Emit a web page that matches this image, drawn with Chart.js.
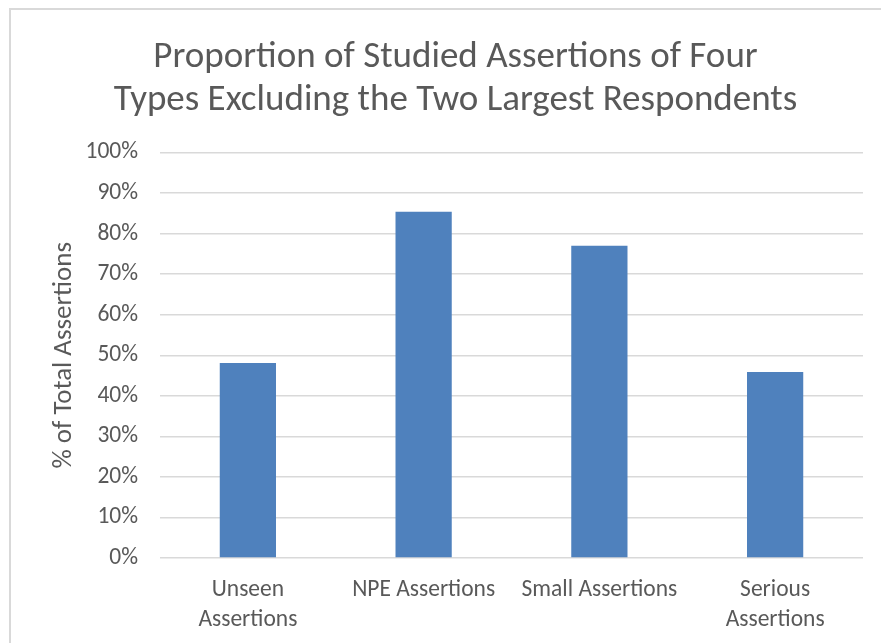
<!DOCTYPE html>
<html>
<head>
<meta charset="utf-8">
<script src="https://cdn.jsdelivr.net/npm/chart.js@4.4.1/dist/chart.umd.min.js"></script>
<style>
  html, body { margin: 0; padding: 0; background: #fff; }
  body { width: 881px; height: 643px; overflow: hidden; position: relative; }
  .frame {
    position: absolute; left: 9px; top: 8px; width: 900px; height: 700px;
    border-left: 2px solid #d9d9d9; border-top: 2px solid #d9d9d9;
  }
  .wrap { position: absolute; left: 0; top: 0; width: 881px; height: 643px; }
</style>
</head>
<body>
<div class="frame"></div>
<div class="wrap"><canvas id="chart"></canvas></div>
<script>
const categories = [
  ["Unseen", "Assertions"],
  "NPE Assertions",
  "Small Assertions",
  ["Serious", "Assertions"]
];
const shareValues = [48.1, 85.4, 77.0, 45.9];
const yTicks = [0, 10, 20, 30, 40, 50, 60, 70, 80, 90, 100];

const textColor = "#595959";
const fontFamily = "Carlito, Lato, 'Open Sans', sans-serif";

function renderChart() {
  const ctx = document.getElementById("chart");

  new Chart(ctx, {
    type: "bar",
    data: {
      labels: categories,
      datasets: [{
        label: "% of Total Assertions",
        data: shareValues,
        backgroundColor: "#4f81bd",
        borderWidth: 0,
        barPercentage: 0.32,
        categoryPercentage: 1
      }]
    },
    options: {
      responsive: true,
      maintainAspectRatio: false,
      animation: false,
      layout: {
        padding: { left: 48, right: 18, top: 0, bottom: 0 }
      },
      plugins: {
        legend: { display: false },
        tooltip: { enabled: false },
        title: {
          display: true,
          text: ["Proportion of Studied Assertions of Four", "Types Excluding the Two Largest Respondents"],
          color: textColor,
          font: { family: fontFamily, size: 37, weight: "normal", lineHeight: 1.17 },
          padding: { top: 36, bottom: 30 }
        }
      },
      scales: {
        x: {
          grid: { display: false },
          border: { display: false },
          ticks: {
            color: textColor,
            font: { family: fontFamily, size: 23.5, lineHeight: 1.28 },
            padding: 9,
            maxRotation: 0,
            autoSkip: false
          },
          afterFit: function(scale) {
            scale.height = 85;
          }
        },
        y: {
          min: 0,
          max: 100,
          afterBuildTicks: function(scale) {
            scale.ticks = yTicks.map(v => ({ value: v }));
          },
          grid: { color: "#d9d9d9", lineWidth: 1.5, drawTicks: false },
          border: { display: false },
          ticks: {
            color: textColor,
            font: { family: fontFamily, size: 23.5 },
            padding: 22,
            callback: function(value) {
              return value + "%";
            }
          },
          title: {
            display: true,
            text: "% of Total Assertions",
            color: textColor,
            font: { family: fontFamily, size: 27 },
            padding: { top: 0, bottom: 8 }
          },
          afterFit: function(scale) {
            scale.width = 112;
          }
        }
      }
    }
  });
}

renderChart();
</script>
</body>
</html>
